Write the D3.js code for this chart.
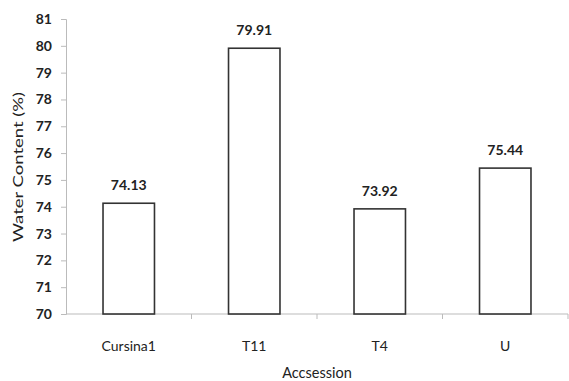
<!DOCTYPE html>
<html>
<head>
<meta charset="utf-8">
<script src="https://cdn.jsdelivr.net/npm/d3@7"></script>
<style>
body { margin: 0; background: #fff; }
text { font-family: Lato, "Open Sans", sans-serif; fill: #222; }
</style>
</head>
<body>
<div id="chart"></div>
<script>
// data
var categories = ["Cursina1", "T11", "T4", "U"];
var values = [74.13, 79.91, 73.92, 75.44];
var yTicks = [70, 71, 72, 73, 74, 75, 76, 77, 78, 79, 80, 81];

var width = 569, height = 381;
var margin = {top: 19, right: 1, bottom: 67, left: 66};
var w = width - margin.left - margin.right;
var h = height - margin.top - margin.bottom;

var svg = d3.select("#chart").append("svg")
    .attr("width", width)
    .attr("height", height)
    .append("g")
    .attr("transform", "translate(" + margin.left + "," + margin.top + ")");

var x = d3.scaleBand().domain(categories).range([0, w]).paddingInner(0.59).paddingOuter(0.295);
var y = d3.scaleLinear().domain([70, 81]).range([h, 0]);

// y axis
var yAxis = svg.append("g")
    .call(d3.axisLeft(y).tickValues(yTicks).tickSize(5).tickPadding(9));
yAxis.selectAll("path, line").attr("stroke", "#bbb");
yAxis.selectAll("text").style("font-size", "14px").style("font-weight", "bold").attr("fill", "#333");

// x axis, ticks between categories
var xAxis = svg.append("g").attr("transform", "translate(0," + h + ")");
xAxis.append("line").attr("x1", 0).attr("x2", w).attr("stroke", "#bbb");
xAxis.selectAll("line.tk")
    .data(categories)
    .enter().append("line")
    .attr("class", "tk")
    .attr("x1", function (d, i) { return (i + 1) * w / categories.length; })
    .attr("x2", function (d, i) { return (i + 1) * w / categories.length; })
    .attr("y1", 0).attr("y2", 5)
    .attr("stroke", "#bbb");
xAxis.selectAll("text")
    .data(categories)
    .enter().append("text")
    .attr("x", function (d) { return x(d) + x.bandwidth() / 2; })
    .attr("y", 37)
    .style("text-anchor", "middle")
    .style("font-size", "14px")
    .text(function (d) { return d; });

// bars
svg.selectAll("rect.bar")
    .data(values)
    .enter().append("rect")
    .attr("class", "bar")
    .attr("x", function (d, i) { return x(categories[i]); })
    .attr("y", function (d) { return y(d); })
    .attr("width", x.bandwidth())
    .attr("height", function (d) { return h - y(d); })
    .attr("fill", "#fff")
    .attr("stroke", "#333")
    .attr("stroke-width", 1.6);

// value labels
svg.selectAll("text.val")
    .data(values)
    .enter().append("text")
    .attr("class", "val")
    .attr("x", function (d, i) { return x(categories[i]) + x.bandwidth() / 2; })
    .attr("y", function (d) { return y(d) - 13; })
    .style("text-anchor", "middle")
    .style("font-size", "14px")
    .style("font-weight", "bold")
    .text(function (d) { return d.toFixed(2); });

// axis titles
svg.append("text")
    .attr("x", w / 2)
    .attr("y", h + 64)
    .style("text-anchor", "middle")
    .style("font-size", "14.5px")
    .text("Accsession");

svg.append("text")
    .attr("transform", "rotate(-90)")
    .attr("x", -148)
    .attr("y", -43)
    .attr("textLength", 150)
    .attr("lengthAdjust", "spacingAndGlyphs")
    .style("text-anchor", "middle")
    .style("font-size", "14px")
    .text("Water Content (%)");
</script>
</body>
</html>
